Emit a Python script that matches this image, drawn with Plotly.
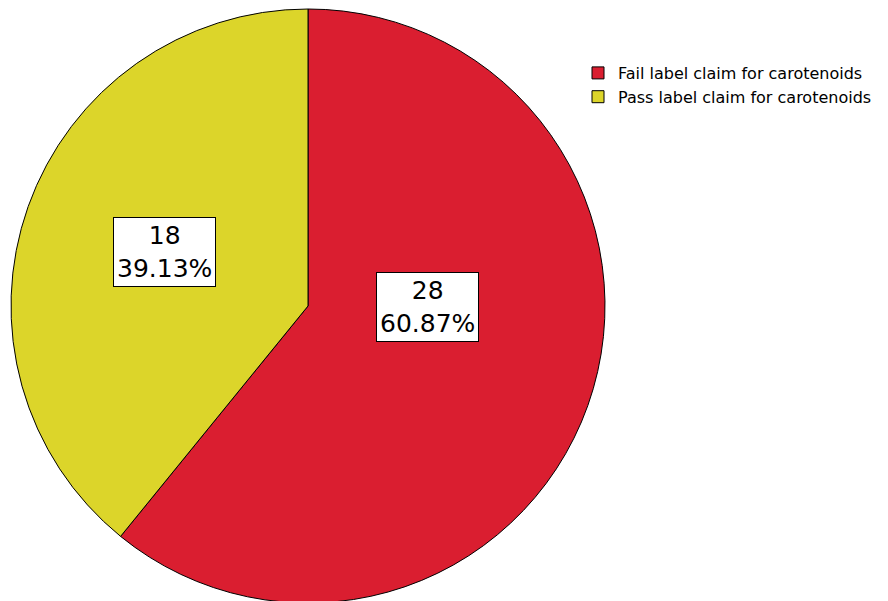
import plotly.graph_objects as go

categories = ["Fail label claim for carotenoids", "Pass label claim for carotenoids"]
counts = [28, 18]
colors = ["#DA1E30", "#DCD52A"]

total = sum(counts)
pcts = [c / total * 100 for c in counts]

W, H = 888, 601
OFF = 8  # page body margin offset
fig = go.Figure(go.Pie(
    labels=categories,
    values=counts,
    sort=False,
    direction="clockwise",
    rotation=0,
    marker=dict(colors=colors, line=dict(color="black", width=1)),
    textinfo="none",
    hoverinfo="label+value+percent",
    domain=dict(x=[(11 - OFF) / W, (605 - OFF) / W], y=[0, 1]),
))

# label positions (paper coords) for each slice's box
label_pos = [((427 - OFF) / W, 1 - (307 - OFF - 1) / (H - 7)),
             ((164 - OFF) / W, 1 - (252 - OFF - 1) / (H - 7))]
for (px, py), c, p in zip(label_pos, counts, pcts):
    fig.add_annotation(
        x=px, y=py, xref="paper", yref="paper",
        xanchor="center", yanchor="middle",
        text=f"{c}<br>{p:.2f}%",
        showarrow=False,
        font=dict(family="DejaVu Sans", size=25, color="black"),
        bgcolor="white", bordercolor="black", borderwidth=1, borderpad=3,
        align="center",
    )

fig.update_layout(
    width=W, height=H,
    margin=dict(l=0, r=0, t=1, b=6),
    paper_bgcolor="white", plot_bgcolor="white",
    showlegend=True,
    legend=dict(
        x=570 / W, y=1 - (48 - 1) / (H - 7), xanchor="left", yanchor="top",
        font=dict(family="DejaVu Sans", size=16, color="black"),
        itemwidth=30, tracegroupgap=0, bgcolor="rgba(0,0,0,0)",
    ),
)

fig.write_html("out.html")
